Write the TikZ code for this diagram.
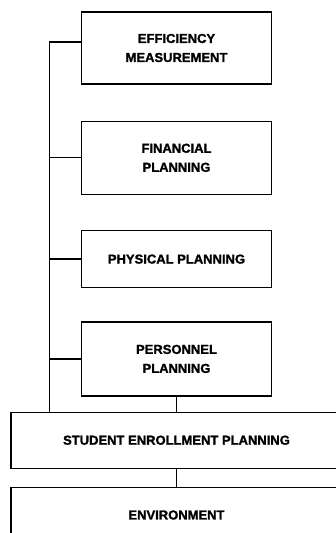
\documentclass[tikz,border=0pt]{standalone}
\usepackage{fontspec}
\setmainfont{Liberation Sans}[BoldFeatures={FakeBold=1.5}]
\usetikzlibrary{positioning}
\tikzset{planbox/.style={draw, line width=1.3pt, align=center, minimum width=190pt, inner sep=0pt, font=\bfseries\fontsize{13}{19}\selectfont}}
\tikzset{widebox/.style={planbox, minimum width=331pt}}
\tikzset{link/.style={line width=1.3pt}}

\begin{document}
\begin{tikzpicture}[x=1pt, y=1pt, node distance=35pt]
	\useasboundingbox (0,0) rectangle (335,-533);
	% Nodes
	\node (efficiency) [planbox, minimum height=72pt] at (176.5,-48) {EFFICIENCY\\ MEASUREMENT};
	\node (financial) [planbox, minimum height=73pt, below=36pt of efficiency] {FINANCIAL\\ PLANNING};
	\node (physical) [planbox, minimum height=57pt, below=of financial] {PHYSICAL PLANNING};
	\node (personnel) [planbox, minimum height=74pt, below=33pt of physical] {PERSONNEL\\ PLANNING};
	\node (enrolment) [widebox, minimum height=56pt, below=15pt of personnel] {STUDENT ENROLLMENT PLANNING};
	\node (environment) [widebox, minimum height=55pt, below=18pt of enrolment] {ENVIRONMENT};

	% Connectors
	\draw [link] ([yshift=6pt]efficiency.west) -- ++(-31.5,0) coordinate (trunk) -- (trunk |- enrolment.north);
	\foreach \n in {financial, physical, personnel}
		\draw [link] (\n.west) -- (\n.west -| trunk);
	\draw [link] (personnel) -- (enrolment);
	\draw [link] (enrolment) -- (environment);
\end{tikzpicture}
\end{document}
